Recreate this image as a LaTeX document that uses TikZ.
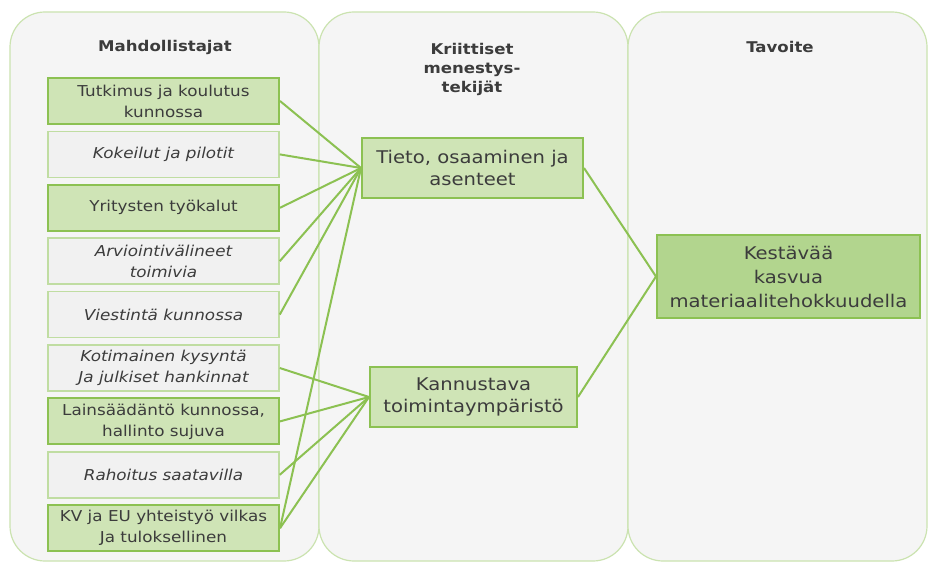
\documentclass[tikz,border=0pt]{standalone}
\usepackage{fontspec}
\setmainfont{DejaVu Sans}[FakeStretch=1.12]
\definecolor{panelfill}{HTML}{F5F5F5}
\definecolor{panelborder}{HTML}{CBE3B0}
\definecolor{greenfill}{HTML}{CFE4B6}
\definecolor{goalfill}{HTML}{B2D58E}
\definecolor{boxborder}{HTML}{8CC152}
\definecolor{grayfill}{HTML}{F1F1F1}
\definecolor{grayborder}{HTML}{C0DDA2}
\definecolor{linkcol}{HTML}{8CC152}
\definecolor{txt}{HTML}{3C3C3C}
\begin{document}
\begin{tikzpicture}[x=1pt,y=-1pt,
  panel/.style={draw=panelborder, fill=panelfill, line width=1.2pt, rounded corners=35pt},
  title/.style={text=txt, align=center, font=\fontsize{14.8}{19}\selectfont\bfseries, inner sep=0pt},
  lbox/.style={minimum width=231pt, minimum height=46pt, inner sep=0pt, align=center, text=txt},
  greenbox/.style={lbox, draw=boxborder, fill=greenfill, line width=2pt, font=\fontsize{15}{21}\selectfont},
  graybox/.style={lbox, draw=grayborder, fill=grayfill, line width=1.5pt, font=\fontsize{15}{21}\selectfont\itshape},
  midbox/.style={draw=boxborder, fill=greenfill, line width=2pt, inner sep=0pt, align=center, text=txt, minimum height=60pt, font=\fontsize{17.5}{22}\selectfont},
  goalbox/.style={draw=boxborder, fill=goalfill, line width=2pt, inner sep=0pt, align=center, text=txt, minimum width=263pt, minimum height=83pt, font=\fontsize{17.5}{24}\selectfont},
  link/.style={draw=linkcol, line width=2pt}
]
\useasboundingbox (0,0) rectangle (929,569);
\fill[white] (0,0) rectangle (929,569);
% panels
\draw[panel] (10,12) rectangle (319,561);
\draw[panel] (319,12) rectangle (628,561);
\draw[panel] (628,12) rectangle (927,561);
% titles
\node[title] (t1) at (165,47) {Mahdollistajat};
\node[title] (t2) at (472,69) {Kriittiset\\menestys-\\tekijät};
\node[title] (t3) at (780,47) {Tavoite};
% left boxes
\node[greenbox] (b1) at (163.5,101.0) {Tutkimus ja koulutus\\kunnossa};
\node[graybox]  (b2) at (163.5,154.4) {Kokeilut ja pilotit};
\node[greenbox] (b3) at (163.5,207.8) {Yritysten työkalut};
\node[graybox]  (b4) at (163.5,261.2) {Arviointivälineet\\toimivia};
\node[graybox]  (b5) at (163.5,314.6) {Viestintä kunnossa};
\node[graybox]  (b6) at (163.5,368.0) {Kotimainen kysyntä\\Ja julkiset hankinnat};
\node[greenbox] (b7) at (163.5,421.4) {Lainsäädäntö kunnossa,\\hallinto sujuva};
\node[graybox]  (b8) at (163.5,474.8) {Rahoitus saatavilla};
\node[greenbox] (b9) at (163.5,528.2) {KV ja EU yhteistyö vilkas\\Ja tuloksellinen};
% middle boxes
\node[midbox, minimum width=221pt] (m1) at (472.5,168) {Tieto, osaaminen ja\\asenteet};
\node[midbox, minimum width=207pt] (m2) at (473.5,397) {Kannustava\\toimintaympäristö};
% goal
\node[goalbox] (g) at (788.5,276.5) {Kestävää\\kasvua\\materiaalitehokkuudella};
% links
\foreach \b in {b1,b2,b3,b4,b5,b9} \draw[link] (\b.east) -- (m1.west);
\foreach \b in {b6,b7,b8,b9} \draw[link] (\b.east) -- (m2.west);
\draw[link] (m1.east) -- (g.west);
\draw[link] (m2.east) -- (g.west);
\end{tikzpicture}
\end{document}
